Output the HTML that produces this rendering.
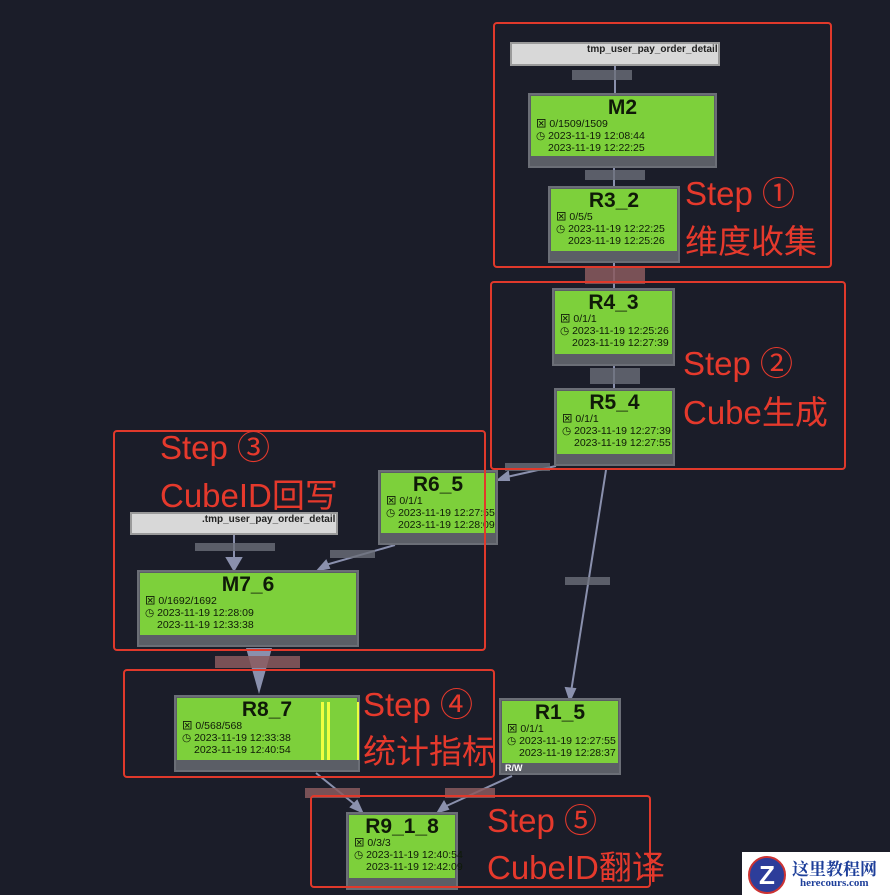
<!DOCTYPE html>
<html><head><meta charset="utf-8"><style>
body{margin:0;width:890px;height:895px;background:#1b1d29;position:relative;overflow:hidden;font-family:"Liberation Sans","Noto Sans CJK SC",sans-serif}
.n{position:absolute;background:#5b5e66;border:2px solid #6b6e76;box-sizing:border-box}
.g{position:absolute;left:1px;right:1px;top:1px;background:#7dd03b;color:#0f1a08}
.t{text-align:center;font-weight:bold;font-size:21px;line-height:20px;margin-top:2px}
.l{font-size:10.5px;line-height:12px;padding-left:5px;white-space:nowrap;font-weight:500}
.l2{padding-left:17px}
.src{position:absolute;background:#d8d8d8;border:2px solid #9a9a9a;box-sizing:border-box;font-size:10px;font-weight:bold;color:#222;padding-left:75px;line-height:12px}
.rb{position:absolute;border:2.5px solid #e0392b;border-radius:4px;box-sizing:border-box}
.rt{position:absolute;color:#e5392c;font-size:33px;line-height:36px;white-space:nowrap}
.blur{position:absolute;background:#6c6f79;opacity:.8}
.pk{position:absolute;background:#8a5a5e;opacity:.85}
</style></head><body>
<svg width="890" height="895" style="position:absolute;left:0;top:0">
<g stroke="#8a90ad" stroke-width="2" fill="#8a90ad">
<line x1="615" y1="66" x2="615" y2="93"/>
<line x1="614" y1="168" x2="614" y2="186"/>
<line x1="614" y1="263" x2="614" y2="288"/>
<line x1="614" y1="366" x2="614" y2="388"/>
<line x1="556" y1="466" x2="502" y2="478"/><polygon points="498,480 508,472 509,480"/>
<line x1="606" y1="470" x2="571" y2="692"/><polygon points="570,700 566,688 575,689"/>
<line x1="395" y1="545" x2="322" y2="566"/><polygon points="318,570 326,561 329,568"/>
<line x1="234" y1="535" x2="234" y2="565"/><polygon points="227,558 241,558 234,570"/>
<polygon points="246,648 272,648 259,694" stroke="none" fill="#8a90ad"/>
<line x1="316" y1="773" x2="358" y2="807"/><polygon points="362,812 351,807 357,801"/>
<line x1="512" y1="776" x2="442" y2="808"/><polygon points="438,812 444,802 448,809"/>
</g></svg>
<div class="blur" style="left:572px;top:70px;width:60px;height:10px"></div>
<div class="blur" style="left:585px;top:170px;width:60px;height:10px"></div>
<div class="pk" style="left:585px;top:266px;width:60px;height:18px"></div>
<div class="blur" style="left:590px;top:368px;width:50px;height:16px"></div>
<div class="blur" style="left:505px;top:463px;width:45px;height:8px"></div>
<div class="blur" style="left:565px;top:577px;width:45px;height:8px"></div>
<div class="blur" style="left:330px;top:550px;width:45px;height:8px"></div>
<div class="blur" style="left:195px;top:543px;width:80px;height:8px"></div>
<div class="pk" style="left:215px;top:656px;width:85px;height:12px"></div>
<div class="pk" style="left:305px;top:788px;width:55px;height:10px"></div>
<div class="pk" style="left:445px;top:788px;width:50px;height:10px"></div>

<div class="src" style="left:510px;top:42px;width:210px;height:24px">tmp_user_pay_order_detail</div>
<div class="src" style="left:130px;top:512px;width:208px;height:23px;padding-left:70px">.tmp_user_pay_order_detail</div>

<div class="n" style="left:528px;top:93px;width:189px;height:75px"><div class="g" style="height:60px"><div class="t">M2</div><div class="l">⊠ 0/1509/1509</div><div class="l">◷ 2023-11-19 12:08:44</div><div class="l l2">2023-11-19 12:22:25</div></div></div>
<div class="n" style="left:548px;top:186px;width:132px;height:77px"><div class="g" style="height:62px"><div class="t">R3_2</div><div class="l">⊠ 0/5/5</div><div class="l">◷ 2023-11-19 12:22:25</div><div class="l l2">2023-11-19 12:25:26</div></div></div>
<div class="n" style="left:552px;top:288px;width:123px;height:78px"><div class="g" style="height:63px"><div class="t">R4_3</div><div class="l">⊠ 0/1/1</div><div class="l">◷ 2023-11-19 12:25:26</div><div class="l l2">2023-11-19 12:27:39</div></div></div>
<div class="n" style="left:554px;top:388px;width:121px;height:78px"><div class="g" style="height:63px"><div class="t">R5_4</div><div class="l">⊠ 0/1/1</div><div class="l">◷ 2023-11-19 12:27:39</div><div class="l l2">2023-11-19 12:27:55</div></div></div>
<div class="n" style="left:378px;top:470px;width:120px;height:75px"><div class="g" style="height:60px"><div class="t">R6_5</div><div class="l">⊠ 0/1/1</div><div class="l">◷ 2023-11-19 12:27:55</div><div class="l l2">2023-11-19 12:28:09</div></div></div>
<div class="n" style="left:137px;top:570px;width:222px;height:77px"><div class="g" style="height:62px"><div class="t">M7_6</div><div class="l">⊠ 0/1692/1692</div><div class="l">◷ 2023-11-19 12:28:09</div><div class="l l2">2023-11-19 12:33:38</div></div></div>
<div class="n" style="left:174px;top:695px;width:186px;height:77px"><div class="g" style="height:62px"><div class="t">R8_7</div><div class="l">⊠ 0/568/568</div><div class="l">◷ 2023-11-19 12:33:38</div><div class="l l2">2023-11-19 12:40:54</div>
<div style="position:absolute;left:144px;top:4px;width:3px;height:58px;background:#f0ff40"></div><div style="position:absolute;left:150px;top:4px;width:3px;height:58px;background:#f0ff40"></div><div style="position:absolute;left:180px;top:4px;width:2px;height:58px;background:#f0ff40"></div></div></div>
<div class="n" style="left:499px;top:698px;width:122px;height:77px"><div class="g" style="height:62px"><div class="t">R1_5</div><div class="l">⊠ 0/1/1</div><div class="l">◷ 2023-11-19 12:27:55</div><div class="l l2">2023-11-19 12:28:37</div></div><div style="position:absolute;left:4px;bottom:0;color:#fff;font-size:9px;font-weight:bold">R/W</div></div>
<div class="n" style="left:346px;top:812px;width:112px;height:78px"><div class="g" style="height:63px"><div class="t">R9_1_8</div><div class="l">⊠ 0/3/3</div><div class="l">◷ 2023-11-19 12:40:54</div><div class="l l2">2023-11-19 12:42:09</div></div></div>

<div class="rb" style="left:493px;top:22px;width:339px;height:246px"></div>
<div class="rb" style="left:490px;top:281px;width:356px;height:189px"></div>
<div class="rb" style="left:113px;top:430px;width:373px;height:221px"></div>
<div class="rb" style="left:123px;top:669px;width:372px;height:109px"></div>
<div class="rb" style="left:310px;top:795px;width:341px;height:93px"></div>

<div class="rt" style="left:685px;top:176px">Step ①</div>
<div class="rt" style="left:685px;top:224px">维度收集</div>
<div class="rt" style="left:683px;top:346px">Step ②</div>
<div class="rt" style="left:683px;top:395px">Cube生成</div>
<div class="rt" style="left:160px;top:430px">Step ③</div>
<div class="rt" style="left:160px;top:478px">CubeID回写</div>
<div class="rt" style="left:363px;top:687px">Step ④</div>
<div class="rt" style="left:363px;top:734px">统计指标</div>
<div class="rt" style="left:487px;top:803px">Step ⑤</div>
<div class="rt" style="left:487px;top:850px">CubeID翻译</div>

<div style="position:absolute;left:742px;top:852px;width:148px;height:43px;background:#fff">
<div style="position:absolute;left:6px;top:4px;width:34px;height:34px;border-radius:50%;background:#2d3d9a;color:#fff;font-weight:bold;font-size:26px;line-height:34px;text-align:center;border:2px solid #c33">Z</div>
<div style="position:absolute;left:50px;top:3px;color:#1e3f9a;font-weight:bold;font-size:17px;font-family:'Noto Serif CJK SC',serif">这里教程网</div>
<div style="position:absolute;left:58px;top:25px;color:#1e3f9a;font-weight:bold;font-size:11px;font-family:'Liberation Serif',serif">herecours.com</div>
</div>
</body></html>
